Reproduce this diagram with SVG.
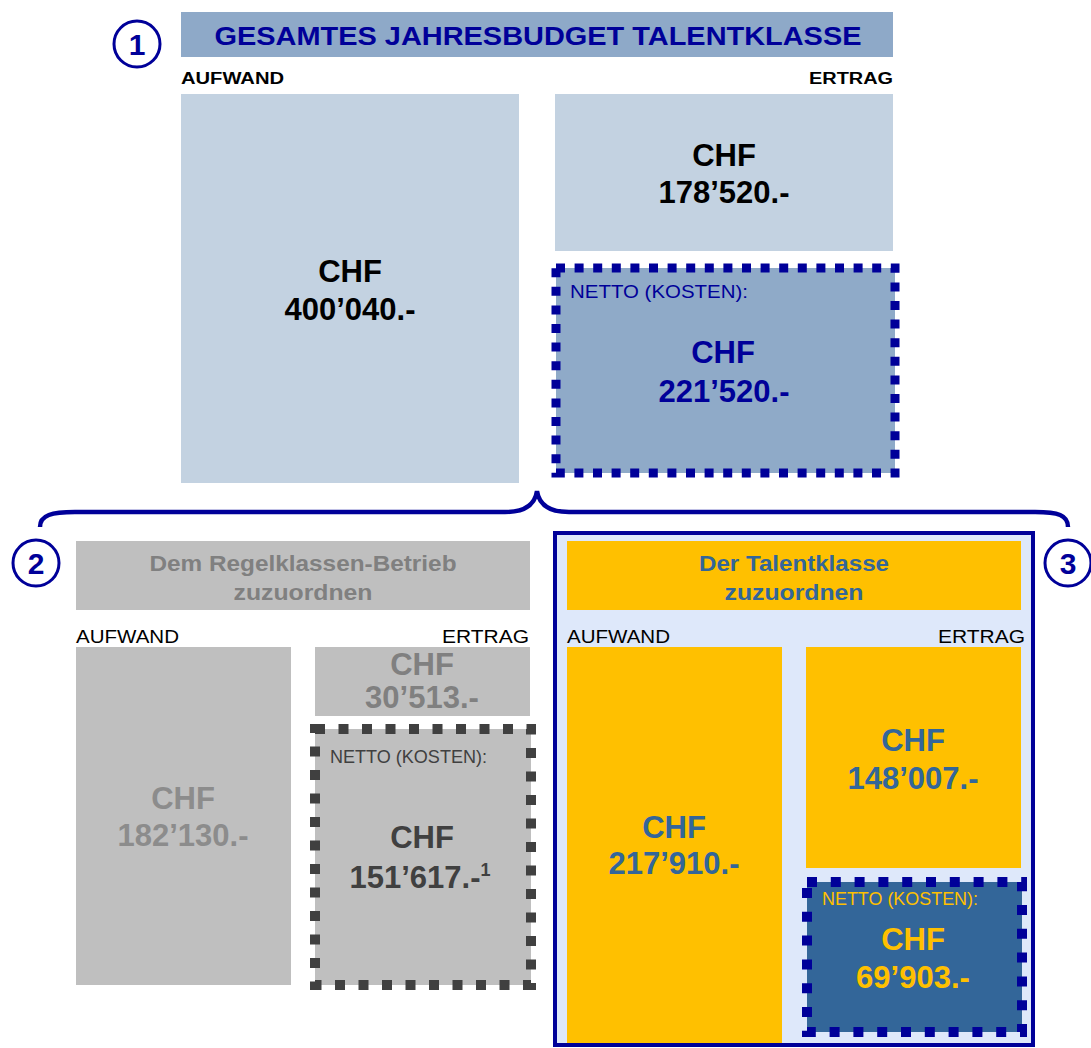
<svg xmlns="http://www.w3.org/2000/svg" width="1091" height="1048" viewBox="0 0 1091 1048">
<style>
text{font-family:"Liberation Sans",Arial,sans-serif}
.b{font-weight:bold}
.big{font-weight:bold;font-size:31px;text-anchor:middle}
.num{font-size:30px;font-weight:bold;text-anchor:middle;fill:#000099}
.circ{fill:#fff;stroke:#000099;stroke-width:3}
.lbl{font-size:18px;fill:#000}
.hd{font-weight:bold;font-size:22px;text-anchor:middle}
</style>
<rect width="1091" height="1048" fill="#fff"/>
<g id="title">
<rect x="181" y="12" width="712" height="45" fill="#8EA9C8"/>
<text x="538" y="45" class="b" font-size="26" fill="#000099" text-anchor="middle" textLength="647" lengthAdjust="spacingAndGlyphs">GESAMTES JAHRESBUDGET  TALENTKLASSE</text>
</g>
<g id="c1"><circle cx="137" cy="44" r="23" class="circ"/><text x="137" y="55" class="num">1</text></g>
<g id="top-labels">
<text x="181" y="84" class="b" font-size="16" textLength="103" lengthAdjust="spacingAndGlyphs">AUFWAND</text>
<text x="893" y="84" class="b" font-size="16" text-anchor="end" textLength="84" lengthAdjust="spacingAndGlyphs">ERTRAG</text>
</g>
<g id="top-aufwand">
<rect x="181" y="94" width="338" height="389" fill="#C3D2E1"/>
<text x="350" y="282" class="big">CHF</text>
<text x="350" y="320" class="big">400’040.-</text>
</g>
<g id="top-ertrag">
<rect x="555" y="94" width="338" height="157" fill="#C3D2E1"/>
<text x="724" y="166" class="big">CHF</text>
<text x="724" y="203" class="big">178’520.-</text>
</g>
<g id="top-netto">
<rect x="556" y="268" width="339" height="205" fill="#8FAAC8" stroke="#000099" stroke-width="9" stroke-dasharray="9 9.6"/>
<text x="570" y="298" font-size="18" fill="#000099" textLength="178" lengthAdjust="spacingAndGlyphs">NETTO (KOSTEN):</text>
<text x="723" y="363" class="big" fill="#000099">CHF</text>
<text x="724" y="402" class="big" fill="#000099">221’520.-</text>
</g>
<g id="connectors">
<path d="M40,527 C40,515 52,512 75,512 L505,512 C525,512 535,505 537,491 C539,505 549,512 569,512 L1035,512 C1058,512 1068,515 1068,527" fill="none" stroke="#000099" stroke-width="4.5"/>
</g>
<g id="c2"><circle cx="36" cy="563" r="23" class="circ"/><text x="36" y="574" class="num">2</text></g>
<g id="c3"><circle cx="1068" cy="563" r="23" class="circ"/><text x="1068" y="574" class="num">3</text></g>
<g id="regel">
<rect x="76" y="541" width="454" height="69" fill="#BFBFBF"/>
<text x="303" y="571" class="hd" fill="#808080" textLength="307" lengthAdjust="spacingAndGlyphs">Dem Regelklassen-Betrieb</text>
<text x="303" y="600" class="hd" fill="#808080" textLength="139" lengthAdjust="spacingAndGlyphs">zuzuordnen</text>
<text x="76" y="643" class="lbl" textLength="103" lengthAdjust="spacingAndGlyphs">AUFWAND</text>
<text x="529" y="643" class="lbl" text-anchor="end" textLength="87" lengthAdjust="spacingAndGlyphs">ERTRAG</text>
</g>
<g id="regel-aufwand">
<rect x="76" y="647" width="215" height="338" fill="#BFBFBF"/>
<text x="183" y="809" class="big" fill="#8C8C8C">CHF</text>
<text x="183" y="846" class="big" fill="#8C8C8C">182’130.-</text>
</g>
<g id="regel-ertrag">
<rect x="315" y="647" width="215" height="69" fill="#BFBFBF"/>
<text x="422" y="675" class="big" font-size="28" fill="#808080">CHF</text>
<text x="422" y="708" class="big" font-size="28" fill="#808080">30’513.-</text>
</g>
<g id="regel-netto">
<rect x="315" y="729" width="216" height="256" fill="#BFBFBF" stroke="#404040" stroke-width="10" stroke-dasharray="10 13.5"/>
<text x="330" y="763" font-size="18" fill="#404040" textLength="157" lengthAdjust="spacingAndGlyphs">NETTO  (KOSTEN):</text>
<text x="422" y="848" class="big" fill="#404040">CHF</text>
<text x="420" y="888" class="big" fill="#404040">151’617.-<tspan font-size="18" dy="-12">1</tspan></text>
</g>
<g id="talent">
<rect x="555" y="533" width="478" height="512" fill="#DEE8FA" stroke="#000099" stroke-width="4"/>
<rect x="567" y="541" width="454" height="69" fill="#FFC000"/>
<text x="794" y="571" class="hd" fill="#336699" textLength="190" lengthAdjust="spacingAndGlyphs">Der Talentklasse</text>
<text x="794" y="600" class="hd" fill="#336699" textLength="139" lengthAdjust="spacingAndGlyphs">zuzuordnen</text>
<text x="567" y="643" class="lbl" textLength="103" lengthAdjust="spacingAndGlyphs">AUFWAND</text>
<text x="1025" y="643" class="lbl" text-anchor="end" textLength="87" lengthAdjust="spacingAndGlyphs">ERTRAG</text>
</g>
<g id="talent-aufwand">
<rect x="567" y="647" width="215" height="396" fill="#FFC000"/>
<text x="674" y="838" class="big" fill="#336699">CHF</text>
<text x="674" y="874" class="big" fill="#336699">217’910.-</text>
</g>
<g id="talent-ertrag">
<rect x="806" y="647" width="215" height="221" fill="#FFC000"/>
<text x="913" y="751" class="big" fill="#336699">CHF</text>
<text x="913" y="789" class="big" fill="#336699">148’007.-</text>
</g>
<g id="talent-netto">
<rect x="807" y="882" width="215" height="150" fill="#336699" stroke="#000099" stroke-width="10" stroke-dasharray="10 13.8"/>
<text x="822" y="905" font-size="18" fill="#FFC000" textLength="156" lengthAdjust="spacingAndGlyphs">NETTO  (KOSTEN):</text>
<text x="913" y="950" class="big" fill="#FFC000">CHF</text>
<text x="913" y="988" class="big" fill="#FFC000">69’903.-</text>
</g>
</svg>
